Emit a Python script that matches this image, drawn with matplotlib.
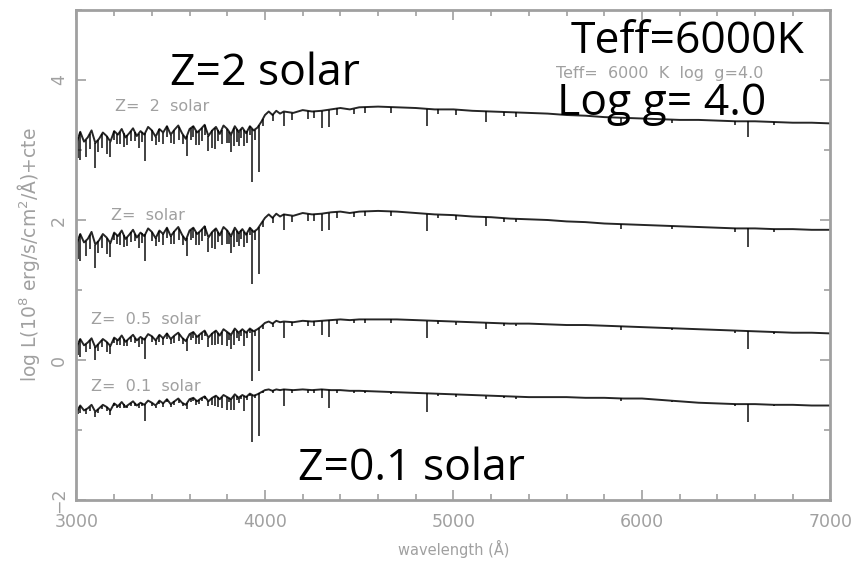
import numpy as np
import matplotlib
matplotlib.use("Agg")
import matplotlib.pyplot as plt
from matplotlib.ticker import MultipleLocator

# continuum sampling (Angstrom)
wave_blue = [3000, 3020, 3040, 3060, 3080, 3100, 3120, 3140, 3160, 3180,
             3200, 3220, 3240, 3260, 3280, 3300, 3320, 3340, 3360, 3380,
             3400, 3420, 3440, 3460, 3480, 3500, 3520, 3540, 3560, 3580,
             3600, 3620, 3640, 3660, 3680, 3700, 3720, 3740, 3760, 3780,
             3800, 3820, 3840, 3860, 3880, 3900, 3920, 3940, 3960, 3980, 4000]
wave_red = [4020, 4040, 4060, 4080, 4100, 4150, 4200, 4250, 4300, 4350,
            4400, 4450, 4500, 4600, 4700, 4800, 4900, 5000, 5100, 5200,
            5300, 5400, 5500, 5600, 5700, 5800, 5900, 6000, 6100, 6200,
            6300, 6400, 6500, 6600, 6700, 6800, 6900, 7000]

flux_z2_blue = [3.10, 3.26, 3.12, 3.18, 3.28, 3.10, 3.16, 3.25, 3.20, 3.12,
                3.27, 3.22, 3.30, 3.18, 3.24, 3.31, 3.20, 3.27, 3.22, 3.33,
                3.28, 3.19, 3.30, 3.25, 3.34, 3.22, 3.29, 3.35, 3.24, 3.16,
                3.30, 3.34, 3.25, 3.30, 3.36, 3.20, 3.28, 3.33, 3.23, 3.35,
                3.30, 3.22, 3.34, 3.26, 3.32, 3.24, 3.34, 3.28, 3.32, 3.40, 3.50]
flux_z2_red = [3.55, 3.50, 3.56, 3.52, 3.55, 3.53, 3.57, 3.55, 3.56, 3.58,
               3.60, 3.58, 3.61, 3.62, 3.61, 3.60, 3.58, 3.58, 3.56, 3.55,
               3.54, 3.53, 3.52, 3.50, 3.49, 3.47, 3.46, 3.45, 3.44, 3.43,
               3.43, 3.42, 3.41, 3.41, 3.40, 3.39, 3.39, 3.38]

flux_z1_blue = [1.66, 1.80, 1.68, 1.73, 1.83, 1.65, 1.71, 1.80, 1.75, 1.67,
                1.82, 1.77, 1.85, 1.73, 1.79, 1.86, 1.75, 1.82, 1.77, 1.88,
                1.83, 1.74, 1.85, 1.80, 1.89, 1.77, 1.84, 1.90, 1.79, 1.71,
                1.85, 1.89, 1.80, 1.85, 1.91, 1.75, 1.83, 1.88, 1.78, 1.90,
                1.85, 1.77, 1.89, 1.81, 1.87, 1.79, 1.89, 1.83, 1.87, 1.95, 2.03]
flux_z1_red = [2.08, 2.03, 2.09, 2.05, 2.08, 2.06, 2.10, 2.08, 2.09, 2.11,
               2.12, 2.10, 2.12, 2.13, 2.12, 2.10, 2.08, 2.07, 2.05, 2.04,
               2.02, 2.01, 2.00, 1.98, 1.97, 1.95, 1.94, 1.93, 1.92, 1.91,
               1.90, 1.89, 1.88, 1.88, 1.87, 1.87, 1.86, 1.86]

flux_z05_blue = [0.19, 0.30, 0.21, 0.25, 0.31, 0.18, 0.24, 0.30, 0.26, 0.20,
                 0.32, 0.28, 0.35, 0.26, 0.31, 0.36, 0.28, 0.33, 0.29, 0.37,
                 0.34, 0.28, 0.36, 0.31, 0.38, 0.30, 0.35, 0.39, 0.32, 0.27,
                 0.37, 0.40, 0.33, 0.38, 0.42, 0.32, 0.38, 0.42, 0.35, 0.44,
                 0.40, 0.36, 0.45, 0.39, 0.44, 0.39, 0.45, 0.41, 0.44, 0.48, 0.53]
flux_z05_red = [0.55, 0.52, 0.56, 0.54, 0.55, 0.54, 0.56, 0.55, 0.56, 0.57,
                0.58, 0.57, 0.58, 0.58, 0.58, 0.57, 0.56, 0.55, 0.54, 0.53,
                0.52, 0.52, 0.51, 0.50, 0.50, 0.49, 0.48, 0.47, 0.46, 0.45,
                0.44, 0.43, 0.42, 0.41, 0.40, 0.39, 0.39, 0.38]

flux_z01_blue = [-0.74, -0.65, -0.72, -0.69, -0.64, -0.74, -0.69, -0.64, -0.67, -0.72,
                 -0.62, -0.66, -0.60, -0.67, -0.63, -0.59, -0.65, -0.61, -0.64, -0.58,
                 -0.61, -0.65, -0.58, -0.62, -0.56, -0.63, -0.59, -0.55, -0.61, -0.64,
                 -0.56, -0.54, -0.59, -0.55, -0.52, -0.59, -0.54, -0.51, -0.56, -0.50,
                 -0.53, -0.56, -0.49, -0.54, -0.50, -0.53, -0.48, -0.51, -0.49, -0.46, -0.43]
flux_z01_red = [-0.42, -0.44, -0.42, -0.43, -0.42, -0.43, -0.42, -0.43, -0.42, -0.43,
                -0.43, -0.44, -0.44, -0.45, -0.46, -0.47, -0.48, -0.49, -0.50, -0.51,
                -0.52, -0.53, -0.53, -0.53, -0.54, -0.54, -0.55, -0.55, -0.57, -0.59,
                -0.61, -0.62, -0.63, -0.63, -0.64, -0.64, -0.65, -0.65]

# absorption features (Angstrom) and their depths in each spectrum
line_wave = [3020, 3050, 3100, 3135, 3180, 3215, 3250, 3290, 3365, 3400,
             3440, 3480, 3520, 3585, 3620, 3650, 3680, 3720, 3735, 3750,
             3770, 3798, 3820, 3835, 3860, 3889, 3933, 3968, 4045, 4102,
             4145, 4227, 4260, 4300, 4340, 4383, 4470, 4530, 4668, 4861,
             4920, 5015, 5175, 5270, 5330, 5890, 6160, 6495, 6563, 6700]
depth_z2 = [0.40, 0.25, 0.35, 0.20, 0.22, 0.15, 0.20, 0.15, 0.40, 0.15,
            0.18, 0.15, 0.20, 0.28, 0.15, 0.20, 0.15, 0.25, 0.30, 0.15,
            0.20, 0.20, 0.25, 0.25, 0.20, 0.22, 0.76, 0.66, 0.10, 0.20,
            0.10, 0.12, 0.10, 0.25, 0.25, 0.10, 0.08, 0.08, 0.08, 0.25,
            0.06, 0.08, 0.15, 0.06, 0.06, 0.08, 0.05, 0.06, 0.22, 0.04]
depth_z1 = [0.38, 0.22, 0.33, 0.18, 0.20, 0.13, 0.18, 0.14, 0.38, 0.13,
            0.16, 0.14, 0.18, 0.26, 0.14, 0.18, 0.14, 0.23, 0.28, 0.15,
            0.20, 0.20, 0.24, 0.24, 0.18, 0.22, 0.76, 0.68, 0.09, 0.22,
            0.09, 0.10, 0.09, 0.24, 0.25, 0.09, 0.07, 0.07, 0.07, 0.25,
            0.05, 0.07, 0.13, 0.05, 0.05, 0.07, 0.04, 0.05, 0.26, 0.04]
depth_z05 = [0.25, 0.12, 0.18, 0.10, 0.12, 0.08, 0.10, 0.08, 0.30, 0.08,
             0.10, 0.08, 0.10, 0.16, 0.08, 0.12, 0.08, 0.16, 0.20, 0.15,
             0.18, 0.20, 0.20, 0.22, 0.12, 0.22, 0.72, 0.62, 0.06, 0.24,
             0.06, 0.07, 0.06, 0.20, 0.24, 0.06, 0.05, 0.05, 0.05, 0.25,
             0.04, 0.05, 0.09, 0.04, 0.04, 0.05, 0.03, 0.04, 0.25, 0.03]
depth_z01 = [0.10, 0.06, 0.08, 0.05, 0.06, 0.04, 0.05, 0.04, 0.24, 0.04,
             0.05, 0.04, 0.05, 0.08, 0.04, 0.06, 0.04, 0.10, 0.14, 0.14,
             0.16, 0.18, 0.16, 0.20, 0.08, 0.22, 0.67, 0.61, 0.04, 0.23,
             0.04, 0.04, 0.04, 0.12, 0.26, 0.04, 0.03, 0.03, 0.03, 0.26,
             0.03, 0.03, 0.05, 0.03, 0.03, 0.03, 0.02, 0.03, 0.25, 0.02]

# weaker metal lines crowding the blue part
blue_line_wave = [3010, 3070, 3115, 3160, 3200, 3230, 3270, 3310, 3330, 3345,
                  3420, 3460, 3500, 3545, 3565, 3605, 3635, 3665, 3700, 3810,
                  3850, 3875, 3905, 3920, 3945, 3990]
blue_depth_z2 = [0.30, 0.22, 0.18, 0.25, 0.12, 0.18, 0.14, 0.12, 0.20, 0.15,
                 0.12, 0.16, 0.12, 0.18, 0.14, 0.16, 0.20, 0.18, 0.22, 0.16,
                 0.18, 0.14, 0.16, 0.12, 0.14, 0.10]
blue_depth_z1 = [0.28, 0.20, 0.16, 0.23, 0.11, 0.16, 0.13, 0.11, 0.18, 0.14,
                 0.11, 0.15, 0.11, 0.16, 0.13, 0.15, 0.18, 0.16, 0.20, 0.15,
                 0.16, 0.13, 0.15, 0.11, 0.13, 0.09]
blue_depth_z05 = [0.18, 0.12, 0.10, 0.14, 0.07, 0.10, 0.08, 0.07, 0.12, 0.09,
                  0.07, 0.09, 0.07, 0.10, 0.08, 0.09, 0.12, 0.10, 0.13, 0.09,
                  0.10, 0.08, 0.09, 0.07, 0.08, 0.06]
blue_depth_z01 = [0.08, 0.06, 0.05, 0.06, 0.04, 0.05, 0.04, 0.04, 0.05, 0.04,
                  0.04, 0.05, 0.04, 0.05, 0.04, 0.05, 0.06, 0.05, 0.07, 0.05,
                  0.05, 0.04, 0.05, 0.04, 0.04, 0.03]

spec_labels = ["Z=  2  solar", "Z=  solar", "Z=  0.5  solar", "Z=  0.1  solar"]
spec_label_x = [3454, 3379, 3369, 3369]
spec_label_y = [3.62, 2.06, 0.58, -0.38]

spectra = [(flux_z2_blue + flux_z2_red, depth_z2 + blue_depth_z2),
           (flux_z1_blue + flux_z1_red, depth_z1 + blue_depth_z1),
           (flux_z05_blue + flux_z05_red, depth_z05 + blue_depth_z05),
           (flux_z01_blue + flux_z01_red, depth_z01 + blue_depth_z01)]

grey = "#a0a0a0"
fig = plt.figure(figsize=(8.66, 5.65), dpi=100)
ax = fig.add_axes([0.0883, 0.1150, 0.8707, 0.8673])

wave = np.array(wave_blue + wave_red)
all_lines = line_wave + blue_line_wave
for flux, depth in spectra:
    flux = np.array(flux)
    ax.plot(wave, flux, color="black", lw=1.4, alpha=0.85)
    top = np.interp(all_lines, wave, flux)
    ax.vlines(all_lines, top - np.array(depth), top, color="black", lw=1.3, alpha=0.8)

for txt, x, y in zip(spec_labels, spec_label_x, spec_label_y):
    ax.text(x, y, txt, color=grey, fontsize=11.5, ha="center", va="center")
ax.text(6095, 4.10, "Teff=  6000  K  log  g=4.0", color=grey, fontsize=11.5,
        ha="center", va="center")

ax.set_xlim(3000, 7000)
ax.set_ylim(-2, 5)
ax.set_xticks([3000, 4000, 5000, 6000, 7000])
ax.xaxis.set_minor_locator(MultipleLocator(200))
ax.set_yticks([-2, 0, 2, 4])
ax.yaxis.set_minor_locator(MultipleLocator(1))
ax.tick_params(which="both", direction="in", top=True, right=True, color=grey,
               labelcolor=grey, labelsize=12.5)
ax.tick_params(axis="x", which="major", pad=9)
ax.tick_params(axis="y", which="major", pad=6)
ax.tick_params(which="major", length=7, width=1.2)
ax.tick_params(which="minor", length=4, width=1.2)
for lab in ax.get_yticklabels():
    lab.set_rotation(90)
    lab.set_va("center")
for s in ax.spines.values():
    s.set_color(grey)
    s.set_linewidth(2)

ax.set_xlabel("wavelength (Å)", color=grey, fontsize=10.5, labelpad=7)
ax.set_ylabel("log L(10$^8$ erg/s/cm$^2$/Å)+cte", color=grey, fontsize=13.5, labelpad=6)

big = dict(fontsize=32, color="black", ha="center", va="baseline", family="Open Sans")
fig.text(0.306, 0.850, "Z=2 solar", **big)
fig.text(0.794, 0.906, "Teff=6000K", **big)
fig.text(0.764, 0.797, "Log g= 4.0", **big)
fig.text(0.475, 0.150, "Z=0.1 solar", **big)

fig.savefig("out.png", dpi=100)
